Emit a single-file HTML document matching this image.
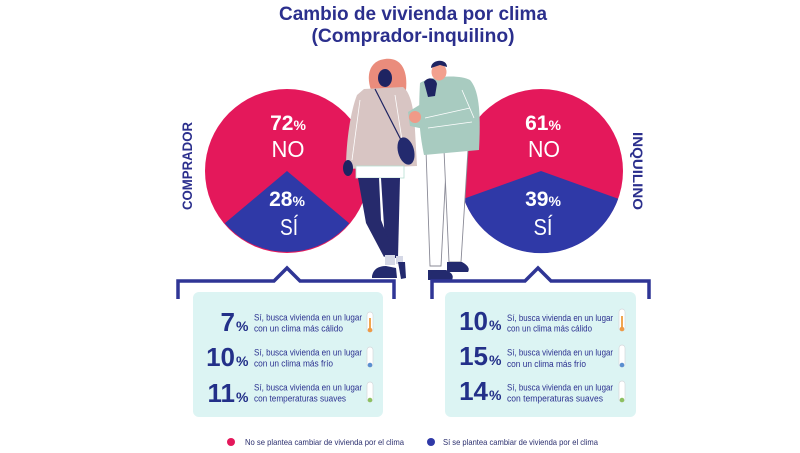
<!DOCTYPE html>
<html>
<head>
<meta charset="utf-8">
<style>
html,body{margin:0;padding:0;background:#ffffff;}
svg{display:block;}
text{font-family:"Liberation Sans",Arial,sans-serif;}
</style>
</head>
<body>
<svg width="800" height="453" viewBox="0 0 800 453" xmlns="http://www.w3.org/2000/svg">
<rect width="800" height="453" fill="#ffffff"/>

<!-- Title -->
<text x="413" y="20" text-anchor="middle" font-size="19.5" font-weight="bold" fill="#2b2f8d" textLength="268" lengthAdjust="spacingAndGlyphs">Cambio de vivienda por clima</text>
<text x="413" y="42" text-anchor="middle" font-size="19.5" font-weight="bold" fill="#2b2f8d" textLength="203" lengthAdjust="spacingAndGlyphs">(Comprador-inquilino)</text>

<!-- Left pie -->
<circle cx="287" cy="171" r="82" fill="#e4185b"/>
<path d="M287,171 L224.8,223.3 A82,82 0 0 0 349.2,223.3 Z" fill="#2f39a7"/>
<text x="288" y="130" text-anchor="middle" fill="#ffffff" font-weight="bold"><tspan font-size="21">72</tspan><tspan font-size="14">%</tspan></text>
<text x="288" y="157" text-anchor="middle" fill="#ffffff" font-size="23" textLength="33" lengthAdjust="spacingAndGlyphs">NO</text>
<text x="287" y="206" text-anchor="middle" fill="#ffffff" font-weight="bold"><tspan font-size="21">28</tspan><tspan font-size="14">%</tspan></text>
<text x="289" y="235" text-anchor="middle" fill="#ffffff" font-size="23" textLength="18" lengthAdjust="spacingAndGlyphs">SÍ</text>

<!-- Right pie -->
<circle cx="541" cy="171" r="82" fill="#e4185b"/>
<path d="M541,171 L463.8,198.8 A82,82 0 0 0 618.2,198.8 Z" fill="#2f39a7"/>
<text x="543" y="130" text-anchor="middle" fill="#ffffff" font-weight="bold"><tspan font-size="21">61</tspan><tspan font-size="14">%</tspan></text>
<text x="544" y="157" text-anchor="middle" fill="#ffffff" font-size="23" textLength="32" lengthAdjust="spacingAndGlyphs">NO</text>
<text x="543" y="206" text-anchor="middle" fill="#ffffff" font-weight="bold"><tspan font-size="21">39</tspan><tspan font-size="14">%</tspan></text>
<text x="543" y="235" text-anchor="middle" fill="#ffffff" font-size="23" textLength="19" lengthAdjust="spacingAndGlyphs">SÍ</text>

<!-- Vertical labels -->
<text transform="translate(192,166) rotate(-90)" text-anchor="middle" font-size="14" font-weight="bold" fill="#2b2f8d" textLength="88" lengthAdjust="spacingAndGlyphs">COMPRADOR</text>
<text transform="translate(633,171) rotate(90)" text-anchor="middle" font-size="14" font-weight="bold" fill="#2b2f8d" textLength="78" lengthAdjust="spacingAndGlyphs">INQUILINO</text>

<!-- Woman -->
<g>
  <!-- hair -->
  <path d="M371,90 C366,76 369,61 385,59 C401,57 408,70 406,90 Z" fill="#ea8c7c"/>
  <ellipse cx="385" cy="78" rx="7" ry="9" fill="#1e2462"/>
  <!-- sweater -->
  <path d="M364,89 L403,87 C411,93 414,110 415,130 L417,166 L346,169 C346,140 351,110 357,95 Z" fill="#d8c5c3"/>
  <path d="M360,100 L352,160" stroke="#ffffff" stroke-width="0.8" fill="none"/>
  <path d="M395,95 L402,140" stroke="#ffffff" stroke-width="0.8" fill="none"/>
  <!-- hand -->
  <ellipse cx="348" cy="168" rx="5" ry="8" fill="#1e2462"/>
  <!-- strap & bag -->
  <path d="M375,89 L401,140" stroke="#1e2462" stroke-width="1.2" fill="none"/>
  <ellipse cx="406" cy="151" rx="8" ry="14" transform="rotate(-15 406 151)" fill="#232a6e"/>
  <!-- shorts -->
  <rect x="356" y="166" width="48" height="12" fill="#ffffff" stroke="#b7e0d2" stroke-width="0.8"/>
  <!-- legs -->
  <path d="M381,178 L400,178 L398,258 L386,258 Z" fill="#262a6c"/>
  <path d="M358,178 L379,178 L381,220 L393,251 L384,257 L366,223 Z" fill="#262a6c"/>
  <!-- socks -->
  <rect x="385" y="255" width="10" height="10" fill="#d5d8e6"/>
  <rect x="396" y="256" width="7" height="8" fill="#d5d8e6"/>
  <!-- shoes -->
  <path d="M372,276 Q374,266 386,266 L396,268 L397,278 L372,278 Z" fill="#232a6e"/>
  <path d="M398,262 L405,262 L406,278 L401,279 Z" fill="#232a6e"/>
</g>

<!-- Man -->
<g>
  <!-- pants -->
  <path d="M426,150 L447,150 L441,266 L430,266 Z" fill="#ffffff" stroke="#8a8a96" stroke-width="0.9"/>
  <path d="M444,150 L468,150 L461,262 L449,262 Z" fill="#ffffff" stroke="#8a8a96" stroke-width="0.9"/>
  <!-- shoes -->
  <path d="M428,270 L446,270 Q455,274 452,280 L428,280 Z" fill="#232a6e"/>
  <path d="M447,262 L462,262 Q471,267 468,272 L447,272 Z" fill="#232a6e"/>
  <!-- sweater -->
  <path d="M420,83 C430,76 460,74 470,80 C479,90 481,112 479,150 L424,155 C420,135 418,120 420,83 Z" fill="#a8cbc0"/>
  <path d="M421,104 L408,112 L410,126 L424,129 Z" fill="#a8cbc0"/>
  <path d="M425,118 L470,108 M428,128 L472,122 M462,90 L474,118" stroke="#ffffff" stroke-width="0.8" fill="none"/>
  <ellipse cx="415" cy="117" rx="6" ry="6" fill="#f09a88"/>
  <!-- head -->
  <ellipse cx="439" cy="72" rx="7.5" ry="8.5" fill="#f2a08e"/>
  <path d="M431,68 C431,59 447,58 447,67 L440,65 Z" fill="#1e2462"/>
  <!-- woman's hand on shoulder -->
  <path d="M424,82 C428,76 436,78 437,84 L435,96 L428,97 Z" fill="#1e2462"/>
</g>

<!-- Brackets -->
<path d="M178,299 L178,281 L274,281 L287,268 L300,281 L394,281 L394,299" fill="none" stroke="#2f3595" stroke-width="3.5"/>
<path d="M432,299 L432,281 L525,281 L538,268 L551,281 L649,281 L649,299" fill="none" stroke="#2f3595" stroke-width="3.5"/>

<!-- Boxes -->
<rect x="193" y="292" width="190" height="125" rx="6" fill="#dcf4f3"/>
<rect x="445" y="292" width="191" height="125" rx="6" fill="#dcf4f3"/>

<!-- Left box rows -->
<g fill="#233089" font-weight="bold">
  <text x="235" y="331" text-anchor="end" font-size="26">7</text>
  <text x="236" y="331" font-size="14">%</text>
  <text x="235" y="366" text-anchor="end" font-size="26">10</text>
  <text x="236" y="366" font-size="14">%</text>
  <text x="235" y="402" text-anchor="end" font-size="26">11</text>
  <text x="236" y="402" font-size="14">%</text>
</g>
<g fill="#2b3190" font-size="9">
  <text x="254" y="320.5" textLength="108" lengthAdjust="spacingAndGlyphs">Sí, busca vivienda en un lugar</text>
  <text x="254" y="331.5" textLength="89" lengthAdjust="spacingAndGlyphs">con un clima más cálido</text>
  <text x="254" y="355.5" textLength="108" lengthAdjust="spacingAndGlyphs">Sí, busca vivienda en un lugar</text>
  <text x="254" y="366.5" textLength="79" lengthAdjust="spacingAndGlyphs">con un clima más frío</text>
  <text x="254" y="390.5" textLength="108" lengthAdjust="spacingAndGlyphs">Sí, busca vivienda en un lugar</text>
  <text x="254" y="401.5" textLength="92" lengthAdjust="spacingAndGlyphs">con temperaturas suaves</text>
</g>

<!-- Right box rows -->
<g fill="#233089" font-weight="bold">
  <text x="488" y="330" text-anchor="end" font-size="26">10</text>
  <text x="489" y="330" font-size="14">%</text>
  <text x="488" y="365" text-anchor="end" font-size="26">15</text>
  <text x="489" y="365" font-size="14">%</text>
  <text x="488" y="400" text-anchor="end" font-size="26">14</text>
  <text x="489" y="400" font-size="14">%</text>
</g>
<g fill="#2b3190" font-size="9">
  <text x="507" y="321" textLength="106" lengthAdjust="spacingAndGlyphs">Sí, busca vivienda en un lugar</text>
  <text x="507" y="331.5" textLength="85" lengthAdjust="spacingAndGlyphs">con un clima más cálido</text>
  <text x="507" y="355.5" textLength="106" lengthAdjust="spacingAndGlyphs">Sí, busca vivienda en un lugar</text>
  <text x="507" y="367" textLength="79" lengthAdjust="spacingAndGlyphs">con un clima más frío</text>
  <text x="507" y="390.5" textLength="106" lengthAdjust="spacingAndGlyphs">Sí, busca vivienda en un lugar</text>
  <text x="507" y="401.5" textLength="96" lengthAdjust="spacingAndGlyphs">con temperaturas suaves</text>
</g>

<!-- Thermometers left -->
<g>
  <rect x="367" y="312" width="6" height="20" rx="3" fill="#ffffff" stroke="#d5d9dc" stroke-width="0.7"/>
  <rect x="369" y="318" width="2" height="12" fill="#f0a650"/>
  <circle cx="370" cy="330" r="2.3" fill="#ee9a44"/>
  <rect x="367" y="347" width="6" height="20" rx="3" fill="#ffffff" stroke="#d5d9dc" stroke-width="0.7"/>
  <circle cx="370" cy="365" r="2.3" fill="#5b8fd0"/>
  <rect x="367" y="382" width="6" height="20" rx="3" fill="#ffffff" stroke="#d5d9dc" stroke-width="0.7"/>
  <circle cx="370" cy="400" r="2.3" fill="#8cc060"/>
</g>
<!-- Thermometers right -->
<g>
  <rect x="619" y="309" width="6" height="22" rx="3" fill="#ffffff" stroke="#d5d9dc" stroke-width="0.7"/>
  <rect x="621" y="316" width="2" height="13" fill="#f0a650"/>
  <circle cx="622" cy="329" r="2.3" fill="#ee9a44"/>
  <rect x="619" y="345" width="6" height="22" rx="3" fill="#ffffff" stroke="#d5d9dc" stroke-width="0.7"/>
  <circle cx="622" cy="365" r="2.3" fill="#5b8fd0"/>
  <rect x="619" y="381" width="6" height="21" rx="3" fill="#ffffff" stroke="#d5d9dc" stroke-width="0.7"/>
  <circle cx="622" cy="400" r="2.3" fill="#8cc060"/>
</g>

<!-- Legend -->
<circle cx="231" cy="442" r="4" fill="#e4185b"/>
<text x="245" y="445" font-size="8.5" fill="#2b2f6e" textLength="159" lengthAdjust="spacingAndGlyphs">No se plantea cambiar de vivienda por el clima</text>
<circle cx="431" cy="442" r="4" fill="#2f39a7"/>
<text x="443" y="445" font-size="8.5" fill="#2b2f6e" textLength="155" lengthAdjust="spacingAndGlyphs">Sí se plantea cambiar de vivienda por el clima</text>
</svg>
</body>
</html>
